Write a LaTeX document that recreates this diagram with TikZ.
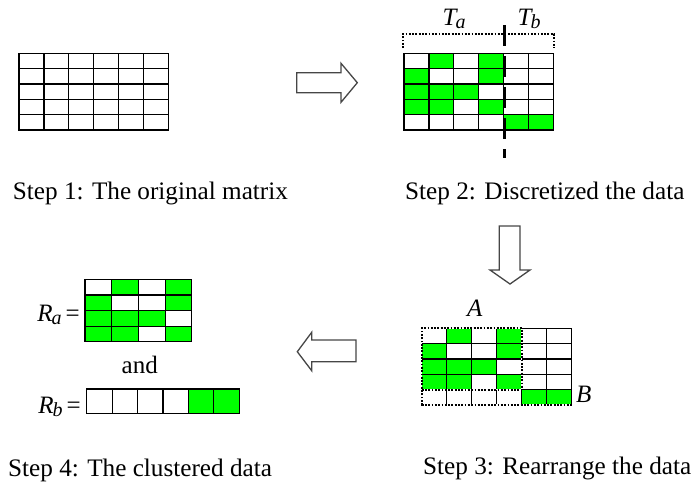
\documentclass[tikz,border=0pt]{standalone}
\usepackage{fontspec}
\setmainfont{Liberation Serif}
\definecolor{cellgreen}{RGB}{0,255,0}
\definecolor{arrowgray}{RGB}{70,70,70}

\tikzset{
  cell/.style={draw=black, line width=1.2pt},
  caption/.style={font=\fontsize{25.2}{28}\selectfont, inner sep=0pt, anchor=base west},
  lab/.style={font=\fontsize{25}{28}\selectfont, inner sep=0pt},
  blockarrow/.style={draw=arrowgray, line width=1.3pt, fill=white, line join=miter},
  dotline/.style={line width=1.8pt, dash pattern=on 1.8pt off 1.5pt},
  eraser/.style={white, line width=1.4pt},
}

% \cellgrid{x0}{y0}{cell width}{cell height}{rows of 0/1, 1 = green}
% first pass fills the green cells, second pass draws every cell border
\newcommand\cellgrid[5]{%
  \foreach \row [count=\r from 0] in {#5} {
    \foreach \c [count=\k from 0] in \row {
      \ifnum\c=1
        \fill[cellgreen] ({#1+\k*#3},{#2+\r*#4}) rectangle +(#3,#4);
      \fi
    }
  }%
  \foreach \row [count=\r from 0] in {#5} {
    \foreach \c [count=\k from 0] in \row {
      \draw[cell] ({#1+\k*#3},{#2+\r*#4}) rectangle +(#3,#4);
    }
  }%
}

\begin{document}
\begin{tikzpicture}[x=1pt, y=-1pt]
\useasboundingbox (0,0) rectangle (695,483);

% Step 1: empty 5x6 grid
\cellgrid{19}{53.3}{24.9}{15.35}{{0,0,0,0,0,0},{0,0,0,0,0,0},{0,0,0,0,0,0},{0,0,0,0,0,0},{0,0,0,0,0,0}}
\node[caption] (s1) at (12.7,199) {Step 1: The original matrix};

% Step 2: discretized grid with the T_a / T_b split
\cellgrid{404}{53.3}{24.9}{15.35}{{0,1,0,1,0,0},{1,0,0,1,0,0},{1,1,1,0,0,0},{1,1,0,1,0,0},{0,0,0,0,1,1}}
\draw[dotline] (403,48) -- (403,34) -- (554,34) -- (554,48);
\draw[line width=2.6pt, dash pattern=on 21pt off 10pt] (504.5,25) -- (504.5,158);
\node[lab, anchor=base west] (ta) at (442.5,25) {\itshape T\kern-1pt\raisebox{-3pt}{\fontsize{20}{20}\selectfont a}};
\node[lab, anchor=base west] (tb) at (517.5,25) {\itshape T\kern-1pt\raisebox{-3pt}{\fontsize{20}{20}\selectfont b}};
\node[caption] (s2) at (405,199) {Step 2: Discretized the data};

% Step 3: rearranged grid with blocks A and B
\cellgrid{421.7}{328.3}{25}{15.34}{{0,1,0,1,0,0},{1,0,0,1,0,0},{1,1,1,0,0,0},{1,1,0,1,0,0},{0,0,0,0,1,1}}
\draw[eraser] (421.7,405) -- (421.7,328.3) -- (521.7,328.3) -- (521.7,389.7);
\draw[eraser] (421.7,389.7) -- (521.7,389.7);
\draw[eraser] (421.7,405) -- (571.7,405);
\draw[dotline] (421.7,405) -- (421.7,328.3) -- (521.7,328.3) -- (521.7,389.7);
\draw[dotline] (421.7,389.7) -- (521.7,389.7);
\draw[dotline] (421.7,405) -- (571.7,405);
\node[lab, anchor=base west] (la) at (467,316.5) {\itshape A};
\node[lab, anchor=base west] (lb) at (576,402) {\itshape B};
\node[caption] (s3) at (423,474) {Step 3: Rearrange the data};

% Step 4: the two clusters
\cellgrid{85}{279.4}{26.7}{15.6}{{0,1,0,1},{1,0,0,1},{1,1,1,0},{1,1,0,1}}
\cellgrid{86.7}{389}{25.4}{24.3}{{0,0,0,0,1,1}}
\node[lab, anchor=base east] (ra) at (80,321.5) {\itshape R\kern-1pt\raisebox{-3pt}{\fontsize{20}{20}\selectfont a}\upshape\,=};
\node[lab, anchor=base east] (rb) at (81,413) {\itshape R\kern-1pt\raisebox{-3pt}{\fontsize{20}{20}\selectfont b}\upshape\,=};
\node[lab, anchor=base west] (and) at (121.5,373) {and};
\node[caption] (s4) at (8,476) {Step 4: The clustered data};

% block arrows between the steps
\draw[blockarrow] (296.7,72.7) -- (341,72.7) -- (341,63.3) -- (357.3,82.7)
  -- (341,102.3) -- (341,92.7) -- (296.7,92.7) -- cycle;
\draw[blockarrow] (499.3,226) -- (520,226) -- (520,270) -- (530,270)
  -- (510,284) -- (490,270) -- (499.3,270) -- cycle;
\draw[blockarrow] (356,340) -- (311.7,340) -- (311.7,332.3) -- (297.3,351.7)
  -- (311.7,370.7) -- (311.7,361.7) -- (356,361.7) -- cycle;
\end{tikzpicture}
\end{document}
